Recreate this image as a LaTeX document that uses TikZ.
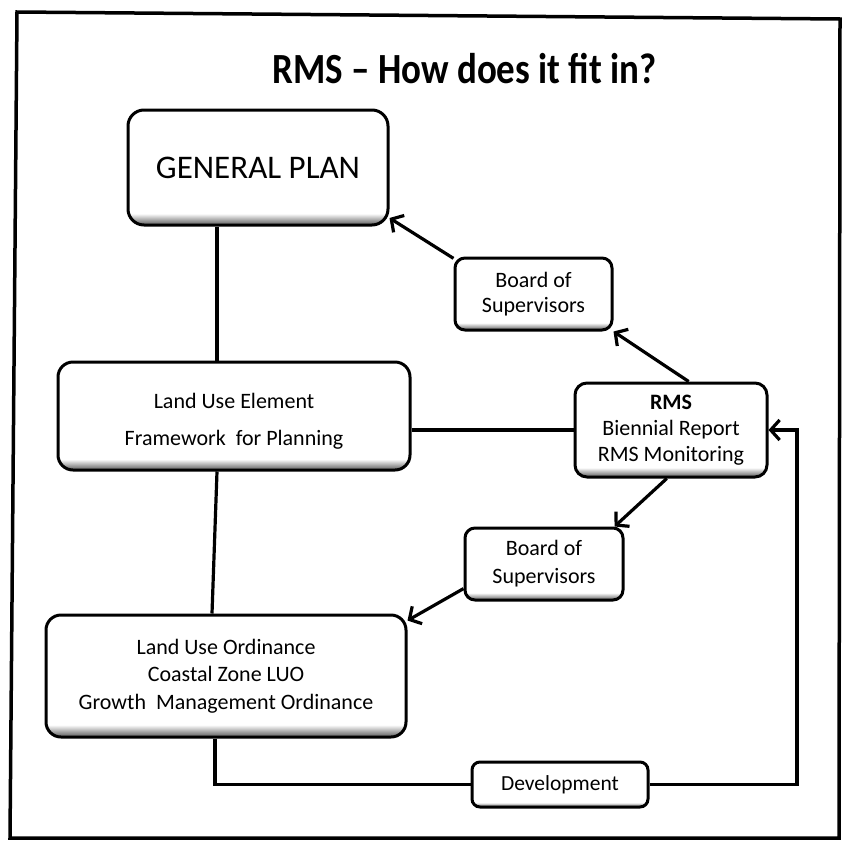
\documentclass[tikz,border=0pt]{standalone}
\usepackage{fontspec}
\setmainfont{Carlito}
\newfontfamily\titlefont{Carlito}[FakeStretch=0.86]
\usetikzlibrary{arrows.meta}
\pgfdeclareverticalshading{boxshade}{100bp}{color(0bp)=(black!65); color(25bp)=(black!65); color(30bp)=(white); color(100bp)=(white)}
\tikzset{
  box/.style={rectangle, draw=black, line width=3pt, rounded corners=#1, shade, shading=boxshade, inner sep=0pt, align=center},
  box/.default=12pt,
  link/.style={line width=3.2pt},
  arr/.style={line width=3.2pt, -{Straight Barb[length=9pt,width=20pt]}},
}
\begin{document}
\begin{tikzpicture}[x=1pt,y=-1pt]
\useasboundingbox (0,0) rectangle (843,841);
\fill[white] (0,0) rectangle (843,841);
% outer frame
\draw[line width=3.5pt] (17,12) -- (840,19) -- (839,838) -- (10,838) -- cycle;
% title
\node[anchor=base, font=\titlefont\bfseries\fontsize{43}{50}\selectfont, inner sep=0pt] (title) at (464.5,83) {RMS \textendash{} How does it fit in?};
% boxes
\node[box=16pt, minimum width=260pt, minimum height=115pt, font=\fontsize{33}{40}\selectfont] (gp) at (258,167.5) {GENERAL PLAN};
\node[box=10pt, minimum width=157pt, minimum height=72pt, font=\fontsize{22}{25}\selectfont] (b1) at (533.5,294) {Board of\\Supervisors};
\node[box=15pt, minimum width=352pt, minimum height=108pt, font=\fontsize{22}{37}\selectfont, text height=62pt] (lue) at (234,416) {Land Use Element\\Framework\ \ for Planning};
\node[box=12pt, minimum width=192pt, minimum height=94pt, font=\fontsize{22}{26}\selectfont] (rms) at (671,430) {\textbf{RMS}\\Biennial Report\\RMS Monitoring};
\node[box=10pt, minimum width=158pt, minimum height=72pt, font=\fontsize{22}{28}\selectfont] (b2) at (544,564) {Board of\\Supervisors};
\node[box=15pt, minimum width=360pt, minimum height=122pt, font=\fontsize{22}{27.5}\selectfont] (luo) at (226,676) {Land Use Ordinance\\Coastal Zone LUO\\Growth\ \ Management Ordinance};
\node[box=8pt, minimum width=176pt, minimum height=45pt, font=\fontsize{21.5}{26}\selectfont] (dev) at (560,784.5) {Development};
% helper coordinates
\coordinate (v1) at (217,0);
\coordinate (v2) at (212,0);
\coordinate (v3) at (215,0);
\coordinate (cr) at (797,430);
% connectors
\draw[link] (gp.south -| v1) -- (lue.north -| v1);
\draw[link] (lue.south -| v1) -- (luo.north -| v2);
\draw[link] (lue.east |- rms.west) -- (rms.west);
\draw[arr] (rms.70) -- (b1.south east);
\draw[arr] (b1.156) -- (gp.-21);
\draw[arr] (rms.-95) -- (b2.28);
\draw[arr] (b2.197) -- (luo.17);
\draw[link] (luo.south -| v3) |- (dev.west);
\draw[arr] (dev.east) -| (cr) -- (rms.east);
\end{tikzpicture}
\end{document}
